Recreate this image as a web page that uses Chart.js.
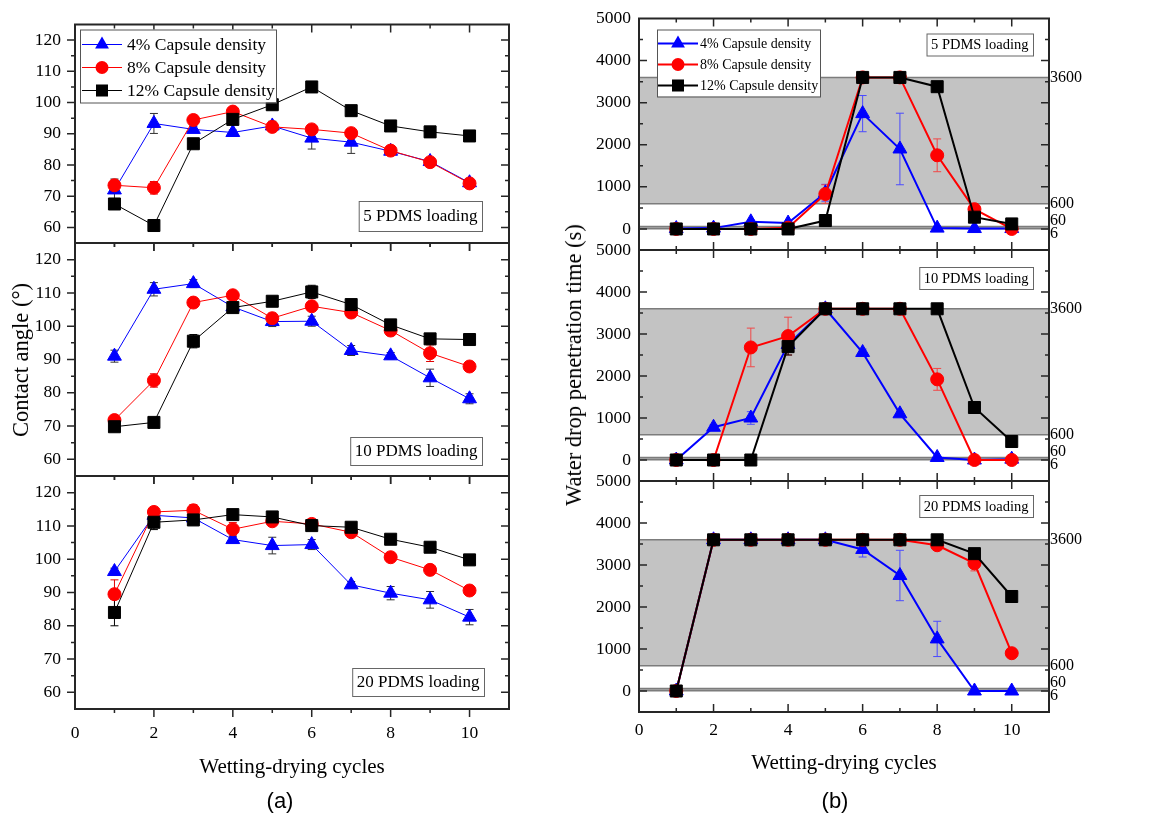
<!DOCTYPE html>
<html>
<head>
<meta charset="utf-8">
<title>Contact angle and water drop penetration time</title>
<script src="https://cdn.jsdelivr.net/npm/chart.js@4.4.0/dist/chart.umd.min.js"></script>
<style>
  body { margin: 0; background: #fff; }
  #wrap { position: relative; width: 1151px; height: 826px; overflow: hidden; }
  #wrap canvas { position: absolute; top: 0; }
  .ytitle { position: absolute; font: 22.5px 'Liberation Serif', 'Times New Roman', serif; white-space: nowrap;
            transform: translate(-50%, -50%) rotate(-90deg); color: #000; }
  .cap { position: absolute; font: 22px 'Liberation Sans', Arial, sans-serif; transform: translate(-50%, -50%); color: #000; }
</style>
</head>
<body>
<div id="wrap">
  <canvas id="ca5" width="560" height="826" style="left:0"></canvas>
  <canvas id="ca10" width="560" height="826" style="left:0"></canvas>
  <canvas id="ca20" width="560" height="826" style="left:0"></canvas>
  <canvas id="wt5" width="591" height="826" style="left:560px"></canvas>
  <canvas id="wt10" width="591" height="826" style="left:560px"></canvas>
  <canvas id="wt20" width="591" height="826" style="left:560px"></canvas>
  <div class="ytitle" style="left:21px; top:360px">Contact angle (°)</div>
  <div class="ytitle" style="left:574px; top:365px">Water drop penetration time (s)</div>
  <div class="cap" style="left:280px; top:801px">(a)</div>
  <div class="cap" style="left:835px; top:801px">(b)</div>
</div>
<script>
const cycles = [1, 2, 3, 4, 5, 6, 7, 8, 9, 10];
const xTicks = [0, 2, 4, 6, 8, 10];
const angleTicks = [60, 70, 80, 90, 100, 110, 120];
const timeTicks = [0, 1000, 2000, 3000, 4000, 5000];
const limitLevels = [3600, 600, 60, 6];
const limitLabels = ['3600', '600', '60', '6'];
const seriesNames = ['4% Capsule density', '8% Capsule density', '12% Capsule density'];
const loadingNames = ['5 PDMS loading', '10 PDMS loading', '20 PDMS loading'];

// contact angle (deg), 5 / 10 / 20 PDMS loading
const ca5Cap4 = [72.0, 93.3, 91.4, 90.4, 92.5, 88.6, 87.3, 84.4, 81.1, 74.3];
const ca5Cap8 = [73.5, 72.7, 94.4, 97.1, 92.2, 91.4, 90.2, 84.6, 80.9, 74.1];
const ca5Cap12 = [67.5, 60.6, 86.8, 94.6, 99.3, 105.0, 97.4, 92.5, 90.6, 89.3];
const ca5Err4 = [3.5, 3.2, 1.0, 0.8, 1.5, 3.5, 3.6, 1.2, 1.0, 1.0];
const ca5Err8 = [1.5, 2.0, 1.5, 1.0, 1.0, 1.0, 1.0, 1.0, 1.0, 1.0];
const ca5Err12 = [1.5, 1.5, 1.0, 1.0, 1.0, 0.5, 1.0, 1.0, 1.0, 1.0];

const ca10Cap4 = [91.0, 111.1, 112.8, 105.8, 101.4, 101.5, 92.7, 91.1, 84.5, 78.2];
const ca10Cap8 = [71.8, 83.7, 107.1, 109.3, 102.4, 106.0, 104.1, 98.7, 91.9, 87.9];
const ca10Cap12 = [69.8, 71.1, 95.5, 105.6, 107.5, 110.3, 106.5, 100.4, 96.2, 96.0];
const ca10Err4 = [1.8, 2.0, 1.2, 1.0, 1.5, 1.5, 1.5, 1.0, 2.6, 1.5];
const ca10Err8 = [1.0, 2.0, 1.0, 1.2, 1.5, 1.0, 1.5, 1.0, 2.5, 1.0];
const ca10Err12 = [1.0, 1.0, 2.0, 1.0, 1.0, 2.0, 1.5, 1.0, 1.0, 0.5];

const ca20Cap4 = [96.3, 113.2, 112.4, 105.9, 104.1, 104.4, 92.3, 89.8, 87.8, 82.6];
const ca20Cap8 = [89.5, 114.2, 114.7, 109.0, 111.4, 110.6, 108.1, 100.6, 96.8, 90.6];
const ca20Cap12 = [84.0, 111.1, 111.8, 113.4, 112.7, 110.1, 109.6, 106.0, 103.6, 99.8];
const ca20Err4 = [1.0, 1.0, 1.0, 1.0, 2.5, 1.5, 1.0, 2.0, 2.5, 2.3];
const ca20Err8 = [4.3, 1.0, 1.7, 2.0, 1.0, 1.0, 1.0, 1.0, 1.0, 1.0];
const ca20Err12 = [4.0, 2.2, 1.0, 1.0, 1.0, 1.0, 1.0, 1.0, 1.0, 1.0];

// water drop penetration time (s)
const wt5Cap4 = [10, 20, 170, 140, 860, 2740, 1900, 20, 10, 10];
const wt5Cap8 = [0, 0, 0, 30, 830, 3600, 3600, 1750, 470, 0];
const wt5Cap12 = [0, 0, 0, 0, 200, 3600, 3600, 3380, 280, 120];
const wt5Err4 = [0, 0, 40, 30, 200, 430, 850, 0, 0, 0];
const wt5Err8 = [0, 0, 0, 0, 220, 0, 0, 390, 40, 0];
const wt5Err12 = [0, 0, 0, 0, 0, 0, 0, 0, 0, 0];

const wt10Cap4 = [0, 780, 1000, 2750, 3600, 2560, 1100, 60, 0, 20];
const wt10Cap8 = [0, 0, 2680, 2950, 3600, 3600, 3600, 1920, 0, 0];
const wt10Cap12 = [0, 0, 0, 2700, 3600, 3600, 3600, 3600, 1250, 440];
const wt10Err4 = [0, 60, 150, 100, 0, 80, 60, 0, 0, 0];
const wt10Err8 = [0, 0, 460, 450, 0, 0, 0, 260, 0, 0];
const wt10Err12 = [0, 0, 0, 200, 0, 0, 0, 0, 80, 0];

const wt20Cap4 = [0, 3600, 3600, 3600, 3600, 3370, 2750, 1240, 0, 0];
const wt20Cap8 = [0, 3600, 3600, 3600, 3600, 3600, 3600, 3470, 3040, 900];
const wt20Cap12 = [0, 3600, 3600, 3600, 3600, 3600, 3600, 3600, 3270, 2250];
const wt20Err4 = [0, 0, 0, 0, 0, 180, 600, 420, 0, 0];
const wt20Err8 = [0, 0, 0, 0, 0, 0, 0, 60, 180, 80];
const wt20Err12 = [0, 0, 0, 0, 0, 0, 0, 0, 0, 0];

const SERIF = "'Liberation Serif', 'Times New Roman', serif";
const colors = ['#0000ff', '#ff0000', '#000000'];
const styles = ['triangle', 'circle', 'rect'];
const radii = [8, 6.5, 8.5];

function marker(ctx, style, r, x, y) {
  ctx.beginPath();
  if (style === 'triangle') {
    ctx.moveTo(x, y - r);
    ctx.lineTo(x + r * 0.866, y + r * 0.5);
    ctx.lineTo(x - r * 0.866, y + r * 0.5);
    ctx.closePath();
  } else if (style === 'circle') {
    ctx.arc(x, y, r, 0, Math.PI * 2);
  } else {
    const s = r * Math.SQRT1_2;
    ctx.rect(x - s, y - s, 2 * s, 2 * s);
  }
  ctx.fill();
}

function tickMarks(ctx, a, x, y, xMaj, yMaj, inward) {
  const mids = v => v.slice(1).map((t, i) => (t + v[i]) / 2);
  ctx.strokeStyle = '#262626';
  ctx.lineWidth = 1.5;
  ctx.beginPath();
  [[xMaj, 8], [mids(xMaj), 4]].forEach(([vals, len]) => vals.forEach(v => {
    const px = x.getPixelForValue(v);
    if (px <= a.left + 1 || px >= a.right - 1) return;
    ctx.moveTo(px, a.bottom); ctx.lineTo(px, a.bottom + (inward.bottom ? -len : len));
    ctx.moveTo(px, a.top); ctx.lineTo(px, a.top + (inward.top ? len : -len));
  }));
  [[yMaj, 8], [mids(yMaj), 4]].forEach(([vals, len]) => vals.forEach(v => {
    const py = y.getPixelForValue(v);
    if (py <= a.top + 1 || py >= a.bottom - 1) return;
    ctx.moveTo(a.left, py); ctx.lineTo(a.left + (inward.left ? len : -len), py);
    ctx.moveTo(a.right, py); ctx.lineTo(a.right + (inward.right ? -len : len), py);
  }));
  ctx.stroke();
}

// band, error bars, frame, legend and the loading tag
const panelDeco = {
  id: 'panelDeco',
  beforeDatasetsDraw(chart, args, o) {
    const { ctx, chartArea: a, scales: { x, y } } = chart;
    ctx.save();
    if (o.band) {
      const yHi = y.getPixelForValue(limitLevels[0]);
      const yLo = y.getPixelForValue(limitLevels[1]);
      ctx.fillStyle = '#c3c3c3';
      ctx.fillRect(a.left, yHi, a.right - a.left, yLo - yHi);
      const y60 = y.getPixelForValue(limitLevels[2]);
      const y6 = y.getPixelForValue(limitLevels[3]);
      ctx.fillStyle = '#a9a9a9';
      ctx.fillRect(a.left, y60, a.right - a.left, y6 - y60);
      ctx.strokeStyle = '#7c7c7c';
      ctx.lineWidth = 1.5;
      limitLevels.forEach(v => {
        const py = y.getPixelForValue(v);
        ctx.beginPath(); ctx.moveTo(a.left, py); ctx.lineTo(a.right, py); ctx.stroke();
      });
    }
    chart.data.datasets.forEach(ds => {
      ctx.strokeStyle = ds.errColor;
      ctx.lineWidth = 1;
      ds.data.forEach((p, j) => {
        const e = ds.errs[j];
        if (!e) return;
        const px = x.getPixelForValue(p.x);
        const t = y.getPixelForValue(p.y + e);
        const b = y.getPixelForValue(p.y - e);
        ctx.beginPath();
        ctx.moveTo(px, t); ctx.lineTo(px, b);
        ctx.moveTo(px - 4, t); ctx.lineTo(px + 4, t);
        ctx.moveTo(px - 4, b); ctx.lineTo(px + 4, b);
        ctx.stroke();
      });
    });
    ctx.restore();
  },
  afterDatasetsDraw(chart, args, o) {
    const { ctx, chartArea: a, scales: { x, y } } = chart;
    ctx.save();
    tickMarks(ctx, a, x, y, xTicks, o.yTicks, o.inward);
    ctx.strokeStyle = '#262626';
    ctx.lineWidth = 2;
    ctx.strokeRect(a.left, a.top, a.right - a.left, a.bottom - a.top);

    if (o.band) {
      ctx.fillStyle = '#000';
      ctx.font = '16px ' + SERIF;
      ctx.textAlign = 'left';
      ctx.textBaseline = 'middle';
      limitLevels.forEach((v, i) => {
        ctx.fillText(limitLabels[i], a.right + 1, y.getPixelForValue(v) + o.nudge[i]);
      });
    }

    if (o.legend) {
      const L = o.legend;
      const bx = a.left + L.dx, by = a.top + L.dy;
      ctx.fillStyle = '#fff';
      ctx.fillRect(bx, by, L.w, L.h);
      ctx.strokeStyle = '#555';
      ctx.lineWidth = 1;
      ctx.strokeRect(bx + 0.5, by + 0.5, L.w, L.h);
      ctx.font = L.size + 'px ' + SERIF;
      ctx.textAlign = 'left';
      ctx.textBaseline = 'middle';
      chart.data.datasets.forEach((ds, k) => {
        const ry = by + L.row0 + k * L.rowH;
        ctx.strokeStyle = ds.borderColor;
        ctx.lineWidth = ds.borderWidth;
        ctx.beginPath(); ctx.moveTo(bx + L.l0, ry); ctx.lineTo(bx + L.l1, ry); ctx.stroke();
        ctx.fillStyle = ds.backgroundColor;
        marker(ctx, ds.pointStyle, ds.pointRadius, bx + (L.l0 + L.l1) / 2, ry);
        ctx.fillStyle = '#000';
        ctx.fillText(ds.label, bx + L.tx, ry + 1);
      });
    }

    const T = o.tag;
    ctx.font = T.size + 'px ' + SERIF;
    const w = ctx.measureText(T.text).width + 9;
    const bx = a.right - T.dr - w;
    const by = T.top ? a.top + T.dt : a.bottom - T.db - T.h;
    ctx.fillStyle = '#fff';
    ctx.fillRect(bx, by, w, T.h);
    ctx.strokeStyle = '#666';
    ctx.lineWidth = 1;
    ctx.strokeRect(bx + 0.5, by + 0.5, w, T.h);
    ctx.fillStyle = '#000';
    ctx.textAlign = 'center';
    ctx.textBaseline = 'middle';
    ctx.fillText(T.text, bx + w / 2, by + T.h / 2 + 1);
    ctx.restore();
  }
};

function buildSets(values, errs, lineW, errColors) {
  return values.map((vals, k) => ({
    label: seriesNames[k],
    data: cycles.map((c, i) => ({ x: c, y: vals[i] })),
    errs: errs[k],
    errColor: errColors[k],
    borderColor: colors[k],
    backgroundColor: colors[k],
    borderWidth: lineW,
    pointStyle: styles[k],
    pointRadius: radii[k],
    pointBorderWidth: 1,
    pointBorderColor: colors[k],
    order: 3 - k
  }));
}

function panel(id, p) {
  const xScale = {
    type: 'linear', min: 0, max: 11, display: p.showX,
    afterBuildTicks: s => { s.ticks = xTicks.map(v => ({ value: v })); },
    grid: { display: false, drawTicks: false }, border: { display: false },
    ticks: { padding: p.xPad, color: '#000', font: { family: SERIF, size: 17.5 }, callback: v => String(v) },
    title: { display: true, text: 'Wetting-drying cycles', color: '#000',
             font: { family: SERIF, size: 21 }, padding: { top: 0, bottom: p.xTitlePad } }
  };
  if (p.showX) xScale.afterFit = s => { s.height = p.xHeight; };
  return new Chart(document.getElementById(id), {
    type: 'line',
    data: { datasets: p.sets },
    options: {
      responsive: false,
      animation: false,
      events: [],
      layout: { padding: p.pad },
      plugins: { legend: { display: false }, tooltip: { enabled: false }, panelDeco: p.deco },
      scales: {
        x: xScale,
        y: {
          type: 'linear', min: p.yMin, max: p.yMax,
          afterBuildTicks: s => { s.ticks = p.deco.yTicks.map(v => ({ value: v })); },
          afterFit: s => { s.width = p.yWidth; },
          grid: { display: false, drawTicks: false }, border: { display: false },
          ticks: { padding: p.yPad, color: '#000', font: { family: SERIF, size: 17.5 }, callback: v => String(v) }
        }
      }
    },
    plugins: [panelDeco]
  });
}

// (a) contact angle column
const leftIn = { left: false, bottom: false, top: true, right: true };
const leftErr = ['#333333', '#e00000', '#000000'];
const leftLegend = { dx: 5, dy: 5, w: 196, h: 73, row0: 15, rowH: 23, l0: 2, l1: 42, tx: 47, size: 17.5 };
const leftBase = { yMin: 55, yMax: 125, yWidth: 75, yPad: 14, xPad: 14, xTitlePad: 46, xHeight: 117 };

panel('ca5', Object.assign({}, leftBase, {
  sets: buildSets([ca5Cap4, ca5Cap8, ca5Cap12], [ca5Err4, ca5Err8, ca5Err12], 1, leftErr),
  pad: { top: 12, bottom: 583, left: 0, right: 51 }, showX: false,
  deco: { yTicks: angleTicks, inward: leftIn, legend: leftLegend,
          tag: { text: loadingNames[0], size: 17, h: 30, dr: 27, db: 12 } }
}));
panel('ca10', Object.assign({}, leftBase, {
  sets: buildSets([ca10Cap4, ca10Cap8, ca10Cap12], [ca10Err4, ca10Err8, ca10Err12], 1, leftErr),
  pad: { top: 243, bottom: 350, left: 0, right: 51 }, showX: false,
  deco: { yTicks: angleTicks, inward: leftIn,
          tag: { text: loadingNames[1], size: 17, h: 28, dr: 27, db: 11 } }
}));
panel('ca20', Object.assign({}, leftBase, {
  sets: buildSets([ca20Cap4, ca20Cap8, ca20Cap12], [ca20Err4, ca20Err8, ca20Err12], 1, leftErr),
  pad: { top: 476, bottom: 0, left: 0, right: 51 }, showX: true,
  deco: { yTicks: angleTicks, inward: leftIn,
          tag: { text: loadingNames[2], size: 17, h: 28, dr: 25, db: 13 } }
}));

// (b) penetration time column
const rightIn = { left: true, bottom: true, top: true, right: true };
const rightErr = ['#4a4aff', '#f04848', '#000000'];
const rightLegend = { dx: 18, dy: 11, w: 163, h: 67, row0: 14, rowH: 21, l0: 1, l1: 41, tx: 43, size: 14 };
const rightBase = { yMin: -500, yMax: 5000, yWidth: 79, yPad: 8, xPad: 8, xTitlePad: 50, xHeight: 114 };
const rightNudge = [0, 0, -6, 5];

panel('wt5', Object.assign({}, rightBase, {
  sets: buildSets([wt5Cap4, wt5Cap8, wt5Cap12], [wt5Err4, wt5Err8, wt5Err12], 2, rightErr),
  pad: { top: 18, bottom: 576, left: 0, right: 102 }, showX: false,
  deco: { yTicks: timeTicks, inward: rightIn, band: true, nudge: rightNudge, legend: rightLegend,
          tag: { text: loadingNames[0], size: 14.5, h: 22, dr: 16, top: true, dt: 15 } }
}));
panel('wt10', Object.assign({}, rightBase, {
  sets: buildSets([wt10Cap4, wt10Cap8, wt10Cap12], [wt10Err4, wt10Err8, wt10Err12], 2, rightErr),
  pad: { top: 250, bottom: 345, left: 0, right: 102 }, showX: false,
  deco: { yTicks: timeTicks, inward: rightIn, band: true, nudge: rightNudge,
          tag: { text: loadingNames[1], size: 14.5, h: 22, dr: 16, top: true, dt: 17 } }
}));
panel('wt20', Object.assign({}, rightBase, {
  sets: buildSets([wt20Cap4, wt20Cap8, wt20Cap12], [wt20Err4, wt20Err8, wt20Err12], 2, rightErr),
  pad: { top: 481, bottom: 0, left: 0, right: 102 }, showX: true,
  deco: { yTicks: timeTicks, inward: rightIn, band: true, nudge: rightNudge,
          tag: { text: loadingNames[2], size: 14.5, h: 22, dr: 16, top: true, dt: 14 } }
}));
</script>
</body>
</html>
